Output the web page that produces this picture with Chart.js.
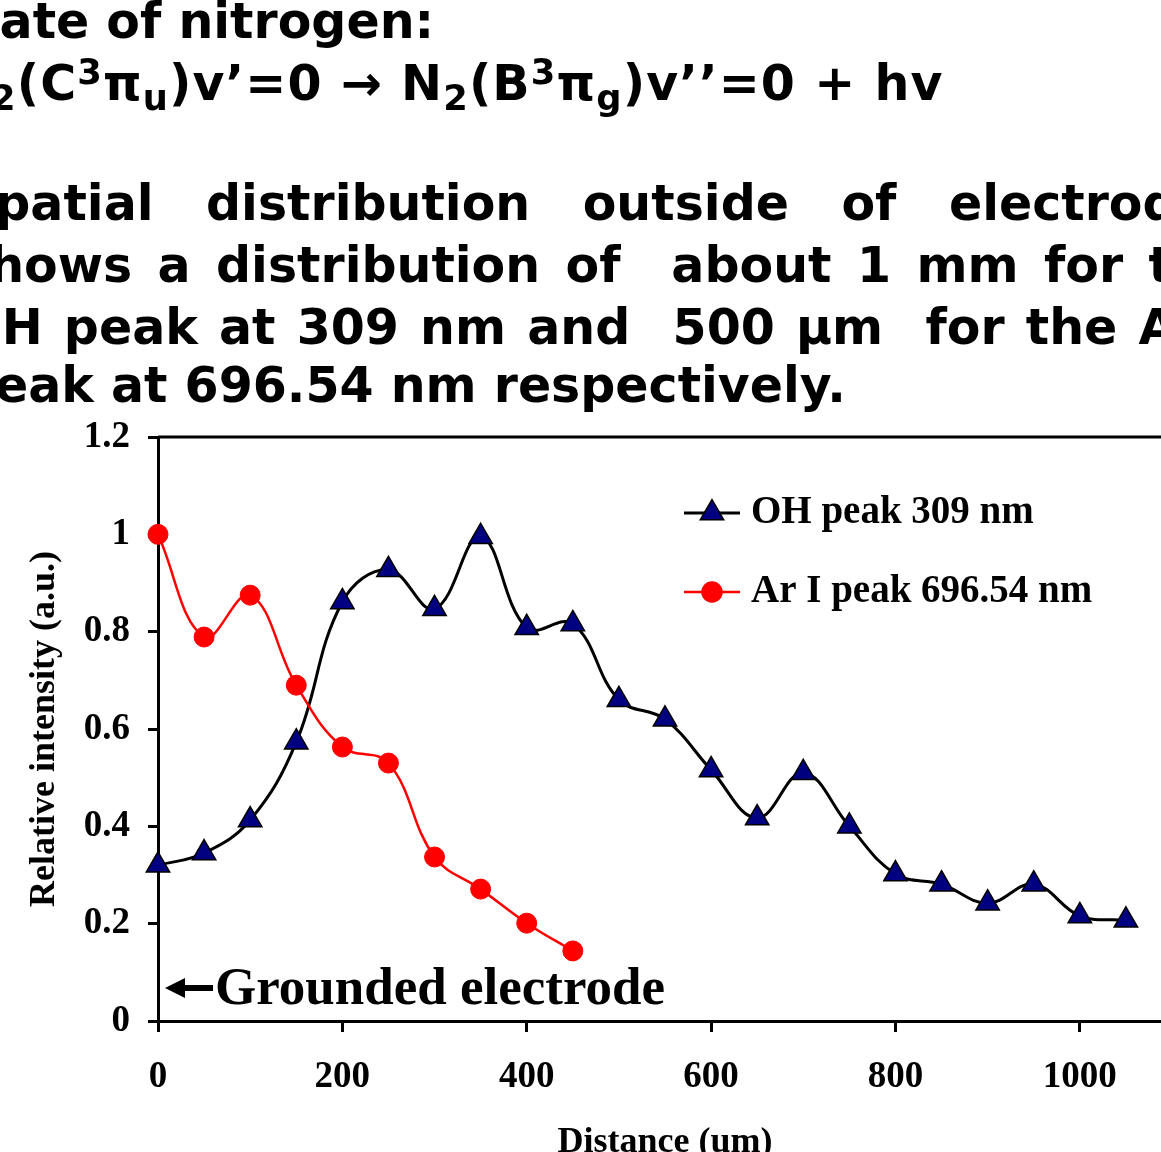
<!DOCTYPE html>
<html>
<head>
<meta charset="utf-8">
<script src="https://cdn.jsdelivr.net/npm/chart.js@4.4.1/dist/chart.umd.min.js"></script>
<style>
  html, body { margin: 0; padding: 0; background: #fff; overflow: hidden; width: 1161px; height: 1152px; }
  #wrap { position: absolute; left: 0; top: 0; width: 1187px; height: 1175px; }
  .txt { position: absolute; font-family: "DejaVu Sans", Verdana, sans-serif; font-weight: bold; font-size: 49px; line-height: 49px; color: #000; white-space: nowrap; }
  .just { width: 1280px; white-space: pre-wrap; text-align: justify; text-align-last: justify; }
  .eq { letter-spacing: 1.1px; }
  .sup { font-size: 0.72em; position: relative; top: -0.45em; }
  .sub { font-size: 0.72em; position: relative; top: 0.28em; }
</style>
</head>
<body>
<div id="wrap"><canvas id="chart" width="1187" height="1175"></canvas></div>

<div class="txt" style="left:-53px; top:-3px;">state of nitrogen:</div>
<div class="txt eq" style="left:-51px; top:59px;">N<span class="sub">2</span>(C<span class="sup">3</span>π<span class="sub">u</span>)v’=0 → N<span class="sub">2</span>(B<span class="sup">3</span>π<span class="sub">g</span>)v’’=0 + hv</div>
<div class="txt just" style="left:-40px; top:179px;">Spatial distribution outside of electrodes</div>
<div class="txt just" style="left:-40px; top:241px;">shows a distribution of  about 1 mm for the</div>
<div class="txt just" style="left:-40px; top:303px;">OH peak at 309 nm and  500 µm  for the Ar I</div>
<div class="txt" style="left:-40px; top:361px;">peak at 696.54 nm respectively.</div>

<script>
// distances in um
const distance = [0, 50, 100, 150, 200, 250, 300, 350, 400, 450, 500, 550, 600, 650, 700, 750, 800, 850, 900, 950, 1000, 1050];
const ohPeak = [0.32, 0.345, 0.413, 0.573, 0.861, 0.927, 0.847, 0.995, 0.808, 0.816, 0.66, 0.62, 0.516, 0.417, 0.51, 0.40, 0.302, 0.281, 0.242, 0.281, 0.216, 0.207];

const arDistance = [0, 50, 100, 150, 200, 250, 300, 350, 400, 450];
const arPeak = [1.0, 0.789, 0.875, 0.69, 0.563, 0.53, 0.337, 0.271, 0.201, 0.144];

const xTicks = [0, 200, 400, 600, 800, 1000];
const xTickLabels = ['0', '200', '400', '600', '800', '1000'];
const yTicks = [0, 0.2, 0.4, 0.6, 0.8, 1, 1.2];
const yTickLabels = ['0', '0.2', '0.4', '0.6', '0.8', '1', '1.2'];

const serif = '"Liberation Serif", "Times New Roman", serif';

// plot frame (top + right edges)
const frame = {
  id: 'frame',
  afterDraw(chart) {
    const { ctx, chartArea: a } = chart;
    ctx.save();
    ctx.strokeStyle = '#000';
    ctx.lineWidth = 3;
    ctx.beginPath();
    ctx.moveTo(a.left, a.top);
    ctx.lineTo(a.right, a.top);
    ctx.lineTo(a.right, a.bottom);
    ctx.stroke();
    ctx.restore();
  }
};

function marker(ctx, style, r, x, y, fill, stroke) {
  ctx.fillStyle = fill;
  ctx.strokeStyle = stroke;
  ctx.lineWidth = 1.5;
  ctx.beginPath();
  if (style === 'triangle') {
    const s = Math.sin(Math.PI / 3) * r;
    ctx.moveTo(x, y - r);
    ctx.lineTo(x + s, y + r / 2);
    ctx.lineTo(x - s, y + r / 2);
    ctx.closePath();
  } else {
    ctx.arc(x, y, r, 0, Math.PI * 2);
  }
  ctx.fill();
  ctx.stroke();
}

// legend inside the plot, as in the original
const legendBox = {
  id: 'legendBox',
  afterDraw(chart) {
    const ctx = chart.ctx;
    const rows = [513, 592];
    chart.data.datasets.forEach((ds, i) => {
      const y = rows[i];
      ctx.save();
      ctx.strokeStyle = ds.borderColor;
      ctx.lineWidth = ds.borderWidth;
      ctx.beginPath();
      ctx.moveTo(684, y);
      ctx.lineTo(740, y);
      ctx.stroke();
      marker(ctx, ds.pointStyle, ds.pointRadius, 712, y, ds.pointBackgroundColor, ds.pointBorderColor);
      ctx.fillStyle = '#000';
      ctx.font = 'bold 39px ' + serif;
      ctx.textBaseline = 'middle';
      ctx.textAlign = 'left';
      ctx.fillText(ds.label, 751, y);
      ctx.restore();
    });
  }
};

// "<- Grounded electrode" note
const electrodeNote = {
  id: 'electrodeNote',
  afterDraw(chart) {
    const ctx = chart.ctx;
    ctx.save();
    ctx.fillStyle = '#000';
    ctx.beginPath();
    ctx.moveTo(165, 988);
    ctx.lineTo(185, 978);
    ctx.lineTo(185, 985);
    ctx.lineTo(213, 985);
    ctx.lineTo(213, 991);
    ctx.lineTo(185, 991);
    ctx.lineTo(185, 998);
    ctx.closePath();
    ctx.fill();
    ctx.font = 'bold 53px ' + serif;
    ctx.textBaseline = 'alphabetic';
    ctx.fillText('Grounded electrode', 215, 1004);
    ctx.restore();
  }
};

new Chart(document.getElementById('chart'), {
  type: 'line',
  data: {
    datasets: [
      {
        label: 'OH peak 309 nm',
        data: distance.map((d, i) => ({ x: d, y: ohPeak[i] })),
        borderColor: '#000',
        borderWidth: 3,
        pointStyle: 'triangle',
        pointRadius: 13.5,
        pointBackgroundColor: '#000080',
        pointBorderColor: '#000',
        pointBorderWidth: 1.5,
        tension: 0.4,
        clip: false,
        order: 1
      },
      {
        label: 'Ar I peak 696.54 nm',
        data: arDistance.map((d, i) => ({ x: d, y: arPeak[i] })),
        borderColor: '#ff0000',
        borderWidth: 2.5,
        pointStyle: 'circle',
        pointRadius: 10,
        pointBackgroundColor: '#ff0000',
        pointBorderColor: '#ff0000',
        pointBorderWidth: 1,
        tension: 0.4,
        clip: false,
        order: 0
      }
    ]
  },
  options: {
    responsive: false,
    animation: false,
    devicePixelRatio: 1,
    layout: { padding: { top: 437, left: 0, right: 0, bottom: 0 } },
    plugins: {
      legend: { display: false },
      tooltip: { enabled: false }
    },
    scales: {
      x: {
        type: 'linear',
        min: 0,
        max: 1100,
        afterBuildTicks: s => { s.ticks = xTicks.map(v => ({ value: v })); },
        afterFit: s => { s.height = 154; },
        grid: { drawOnChartArea: false, drawTicks: true, tickLength: 11, color: '#000', lineWidth: 3 },
        border: { display: true, color: '#000', width: 3 },
        ticks: {
          padding: 23,
          color: '#000',
          maxRotation: 0,
          autoSkip: false,
          font: { family: serif, weight: 'bold', size: 37 },
          callback: v => xTickLabels[xTicks.indexOf(v)]
        },
        title: {
          display: true,
          text: 'Distance (um)',
          color: '#000',
          font: { family: serif, weight: 'bold', size: 36 },
          padding: { top: 0, bottom: 11 }
        }
      },
      y: {
        min: 0,
        max: 1.2,
        afterBuildTicks: s => { s.ticks = yTicks.map(v => ({ value: v })); },
        afterFit: s => { s.width = 158; },
        grid: { drawOnChartArea: false, drawTicks: true, tickLength: 10, color: '#000', lineWidth: 3 },
        border: { display: true, color: '#000', width: 3 },
        ticks: {
          padding: 18,
          color: '#000',
          font: { family: serif, weight: 'bold', size: 37 },
          callback: (v, i) => yTickLabels[i]
        },
        title: {
          display: true,
          text: 'Relative intensity (a.u.)',
          color: '#000',
          font: { family: serif, weight: 'bold', size: 36 },
          padding: { top: 23, bottom: 0 }
        }
      }
    }
  },
  plugins: [frame, legendBox, electrodeNote]
});
</script>
</body>
</html>
